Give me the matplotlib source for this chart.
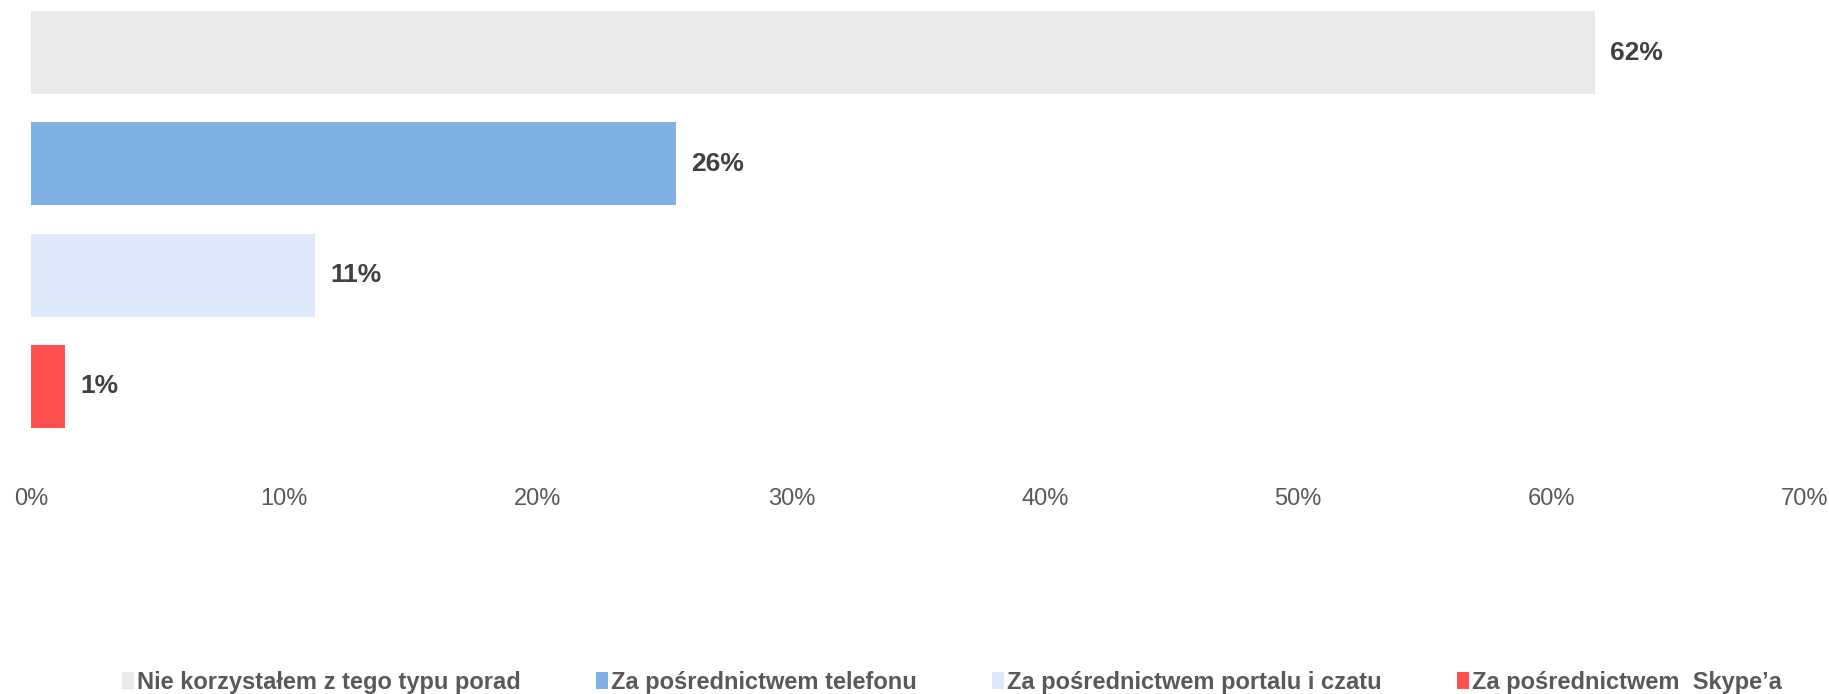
import matplotlib.pyplot as plt
from matplotlib.patches import Patch
from matplotlib.ticker import FuncFormatter

plt.rcParams['font.family'] = ['Liberation Sans', 'DejaVu Sans']

categories = ['Nie korzystałem z tego typu porad', 'Za pośrednictwem telefonu',
              'Za pośrednictwem portalu i czatu', 'Za pośrednictwem  Skype’a']
values = [61.7, 25.45, 11.2, 1.35]
labels = ['62%', '26%', '11%', '1%']
colors = ['#EAE8EB', '#7FB1E5', '#DEEAFC', '#FF5050']


def to_percent(x, pos):
    return '%d%%' % x


fig = plt.figure(figsize=(18.29, 6.94), dpi=100)
ax = fig.add_axes([31 / 1829, 1 - 442 / 694, 1774 / 1829, 445 / 694])

ypos = list(range(len(values)))
ax.barh(ypos, values, height=0.745, color=colors)
ax.set_ylim(3.5, -0.5)
ax.set_xlim(0, 70)

for y, v, lab in zip(ypos, values, labels):
    ax.annotate(lab, (v, y), xytext=(11, 0), textcoords='offset points',
                va='center', ha='left', fontsize=19, fontweight='bold', color='#404040')

ax.xaxis.set_major_formatter(FuncFormatter(to_percent))
ax.set_xticks(range(0, 71, 10))
ax.tick_params(axis='x', length=0, pad=33, labelsize=17, labelcolor='#595959')
ax.set_yticks([])
for s in ax.spines.values():
    s.set_visible(False)

handles = [Patch(facecolor=c, edgecolor='none') for c in colors]
fig.legend(handles, categories, loc='center', bbox_to_anchor=(0.5205, 1 - 682 / 694), ncol=4,
           frameon=False, handlelength=0.5, handleheight=0.7, handletextpad=0.12,
           columnspacing=3.2, prop={'size': 17, 'weight': 'bold'}, labelcolor='#595959')

fig.savefig('out.png', dpi=100)
